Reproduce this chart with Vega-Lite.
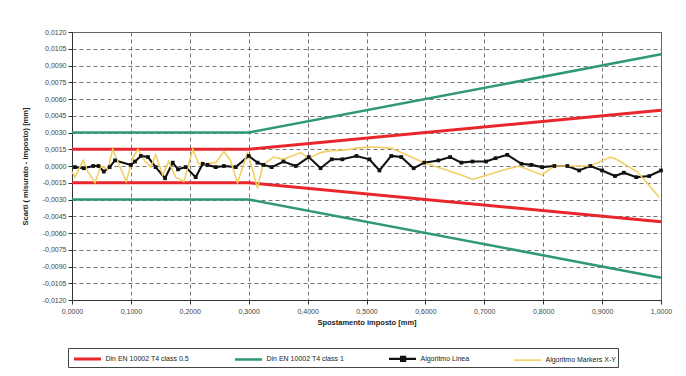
{
  "$schema": "https://vega.github.io/schema/vega-lite/v6.json",
  "autosize": "none",
  "width": 589,
  "height": 268,
  "padding": {"left": 72, "top": 32, "right": 25, "bottom": 76},
  "background": "white",
  "config": {
    "font": "Liberation Sans",
    "view": {"stroke": "#666", "strokeWidth": 1},
    "axis": {
      "labelFont": "Liberation Sans", "labelFontSize": 7, "labelColor": "#444",
      "titleFont": "Liberation Sans", "titleFontSize": 7.5, "titleFontWeight": "bold", "titleColor": "#222",
      "domainColor": "#333", "tickColor": "#333", "tickSize": 4,
      "gridColor": "#666", "gridDash": [4, 3], "gridWidth": 0.9
    },
    "legend": {
      "labelFont": "Liberation Sans", "labelFontSize": 7, "labelColor": "#222"
    }
  },
  "data": {"values": [
    {"s": "Din EN 10002 T4 class 0.5", "p": "u", "x": 0, "y": 0.0015},
    {"s": "Din EN 10002 T4 class 0.5", "p": "u", "x": 0.3, "y": 0.0015},
    {"s": "Din EN 10002 T4 class 0.5", "p": "u", "x": 1, "y": 0.005},
    {"s": "Din EN 10002 T4 class 0.5", "p": "l", "x": 0, "y": -0.0015},
    {"s": "Din EN 10002 T4 class 0.5", "p": "l", "x": 0.3, "y": -0.0015},
    {"s": "Din EN 10002 T4 class 0.5", "p": "l", "x": 1, "y": -0.005},
    {"s": "Din EN 10002 T4 class 1", "p": "u", "x": 0, "y": 0.003},
    {"s": "Din EN 10002 T4 class 1", "p": "u", "x": 0.3, "y": 0.003},
    {"s": "Din EN 10002 T4 class 1", "p": "u", "x": 1, "y": 0.01},
    {"s": "Din EN 10002 T4 class 1", "p": "l", "x": 0, "y": -0.003},
    {"s": "Din EN 10002 T4 class 1", "p": "l", "x": 0.3, "y": -0.003},
    {"s": "Din EN 10002 T4 class 1", "p": "l", "x": 1, "y": -0.01},

    {"s": "Algoritmo Linea", "p": "a", "x": 0.005, "y": -0.0001},
    {"s": "Algoritmo Linea", "p": "a", "x": 0.020, "y": -0.0002},
    {"s": "Algoritmo Linea", "p": "a", "x": 0.036, "y": 0.0},
    {"s": "Algoritmo Linea", "p": "a", "x": 0.045, "y": 0.0},
    {"s": "Algoritmo Linea", "p": "a", "x": 0.054, "y": -0.0005},
    {"s": "Algoritmo Linea", "p": "a", "x": 0.064, "y": -0.0001},
    {"s": "Algoritmo Linea", "p": "a", "x": 0.073, "y": 0.0005},
    {"s": "Algoritmo Linea", "p": "a", "x": 0.100, "y": 0.0001},
    {"s": "Algoritmo Linea", "p": "a", "x": 0.107, "y": 0.0004},
    {"s": "Algoritmo Linea", "p": "a", "x": 0.117, "y": 0.0009},
    {"s": "Algoritmo Linea", "p": "a", "x": 0.129, "y": 0.0008},
    {"s": "Algoritmo Linea", "p": "a", "x": 0.142, "y": -0.0001},
    {"s": "Algoritmo Linea", "p": "a", "x": 0.158, "y": -0.0011},
    {"s": "Algoritmo Linea", "p": "a", "x": 0.171, "y": 0.0003},
    {"s": "Algoritmo Linea", "p": "a", "x": 0.180, "y": -0.0003},
    {"s": "Algoritmo Linea", "p": "a", "x": 0.193, "y": -0.0001},
    {"s": "Algoritmo Linea", "p": "a", "x": 0.210, "y": -0.0010},
    {"s": "Algoritmo Linea", "p": "a", "x": 0.222, "y": 0.0002},
    {"s": "Algoritmo Linea", "p": "a", "x": 0.230, "y": 0.0001},
    {"s": "Algoritmo Linea", "p": "a", "x": 0.244, "y": -0.0001},
    {"s": "Algoritmo Linea", "p": "a", "x": 0.258, "y": 0.0},
    {"s": "Algoritmo Linea", "p": "a", "x": 0.278, "y": -0.0001},
    {"s": "Algoritmo Linea", "p": "a", "x": 0.300, "y": 0.0009},
    {"s": "Algoritmo Linea", "p": "a", "x": 0.315, "y": 0.0003},
    {"s": "Algoritmo Linea", "p": "a", "x": 0.325, "y": 0.0001},
    {"s": "Algoritmo Linea", "p": "a", "x": 0.339, "y": -0.0001},
    {"s": "Algoritmo Linea", "p": "a", "x": 0.359, "y": 0.0004},
    {"s": "Algoritmo Linea", "p": "a", "x": 0.380, "y": 0.0},
    {"s": "Algoritmo Linea", "p": "a", "x": 0.402, "y": 0.0008},
    {"s": "Algoritmo Linea", "p": "a", "x": 0.422, "y": -0.0002},
    {"s": "Algoritmo Linea", "p": "a", "x": 0.441, "y": 0.0006},
    {"s": "Algoritmo Linea", "p": "a", "x": 0.459, "y": 0.0006},
    {"s": "Algoritmo Linea", "p": "a", "x": 0.483, "y": 0.0009},
    {"s": "Algoritmo Linea", "p": "a", "x": 0.505, "y": 0.0006},
    {"s": "Algoritmo Linea", "p": "a", "x": 0.522, "y": -0.0004},
    {"s": "Algoritmo Linea", "p": "a", "x": 0.542, "y": 0.0009},
    {"s": "Algoritmo Linea", "p": "a", "x": 0.559, "y": 0.0008},
    {"s": "Algoritmo Linea", "p": "a", "x": 0.580, "y": -0.0002},
    {"s": "Algoritmo Linea", "p": "a", "x": 0.598, "y": 0.0003},
    {"s": "Algoritmo Linea", "p": "a", "x": 0.622, "y": 0.0005},
    {"s": "Algoritmo Linea", "p": "a", "x": 0.642, "y": 0.0008},
    {"s": "Algoritmo Linea", "p": "a", "x": 0.661, "y": 0.0003},
    {"s": "Algoritmo Linea", "p": "a", "x": 0.680, "y": 0.0004},
    {"s": "Algoritmo Linea", "p": "a", "x": 0.703, "y": 0.0004},
    {"s": "Algoritmo Linea", "p": "a", "x": 0.719, "y": 0.0007},
    {"s": "Algoritmo Linea", "p": "a", "x": 0.739, "y": 0.0010},
    {"s": "Algoritmo Linea", "p": "a", "x": 0.763, "y": 0.0002},
    {"s": "Algoritmo Linea", "p": "a", "x": 0.780, "y": 0.0001},
    {"s": "Algoritmo Linea", "p": "a", "x": 0.798, "y": -0.0001},
    {"s": "Algoritmo Linea", "p": "a", "x": 0.819, "y": 0.0},
    {"s": "Algoritmo Linea", "p": "a", "x": 0.841, "y": 0.0},
    {"s": "Algoritmo Linea", "p": "a", "x": 0.861, "y": -0.0004},
    {"s": "Algoritmo Linea", "p": "a", "x": 0.880, "y": 0.0},
    {"s": "Algoritmo Linea", "p": "a", "x": 0.900, "y": -0.0004},
    {"s": "Algoritmo Linea", "p": "a", "x": 0.922, "y": -0.0009},
    {"s": "Algoritmo Linea", "p": "a", "x": 0.937, "y": -0.0006},
    {"s": "Algoritmo Linea", "p": "a", "x": 0.958, "y": -0.0010},
    {"s": "Algoritmo Linea", "p": "a", "x": 0.980, "y": -0.0009},
    {"s": "Algoritmo Linea", "p": "a", "x": 1.000, "y": -0.0004},

    {"s": "Algoritmo Markers X-Y", "p": "b", "x": 0.0, "y": -0.0005},
    {"s": "Algoritmo Markers X-Y", "p": "b", "x": 0.005, "y": -0.0010},
    {"s": "Algoritmo Markers X-Y", "p": "b", "x": 0.019, "y": 0.0005},
    {"s": "Algoritmo Markers X-Y", "p": "b", "x": 0.027, "y": -0.0005},
    {"s": "Algoritmo Markers X-Y", "p": "b", "x": 0.039, "y": -0.0015},
    {"s": "Algoritmo Markers X-Y", "p": "b", "x": 0.049, "y": 0.0},
    {"s": "Algoritmo Markers X-Y", "p": "b", "x": 0.061, "y": -0.0003},
    {"s": "Algoritmo Markers X-Y", "p": "b", "x": 0.069, "y": 0.0015},
    {"s": "Algoritmo Markers X-Y", "p": "b", "x": 0.081, "y": 0.0},
    {"s": "Algoritmo Markers X-Y", "p": "b", "x": 0.092, "y": -0.0014},
    {"s": "Algoritmo Markers X-Y", "p": "b", "x": 0.103, "y": 0.0007},
    {"s": "Algoritmo Markers X-Y", "p": "b", "x": 0.112, "y": 0.0015},
    {"s": "Algoritmo Markers X-Y", "p": "b", "x": 0.124, "y": 0.0004},
    {"s": "Algoritmo Markers X-Y", "p": "b", "x": 0.134, "y": -0.0001},
    {"s": "Algoritmo Markers X-Y", "p": "b", "x": 0.142, "y": 0.0010},
    {"s": "Algoritmo Markers X-Y", "p": "b", "x": 0.154, "y": -0.0008},
    {"s": "Algoritmo Markers X-Y", "p": "b", "x": 0.164, "y": 0.0004},
    {"s": "Algoritmo Markers X-Y", "p": "b", "x": 0.176, "y": -0.0010},
    {"s": "Algoritmo Markers X-Y", "p": "b", "x": 0.190, "y": -0.0014},
    {"s": "Algoritmo Markers X-Y", "p": "b", "x": 0.205, "y": 0.0015},
    {"s": "Algoritmo Markers X-Y", "p": "b", "x": 0.215, "y": 0.0002},
    {"s": "Algoritmo Markers X-Y", "p": "b", "x": 0.227, "y": 0.0002},
    {"s": "Algoritmo Markers X-Y", "p": "b", "x": 0.244, "y": 0.0003},
    {"s": "Algoritmo Markers X-Y", "p": "b", "x": 0.258, "y": 0.0013},
    {"s": "Algoritmo Markers X-Y", "p": "b", "x": 0.269, "y": 0.0005},
    {"s": "Algoritmo Markers X-Y", "p": "b", "x": 0.281, "y": -0.0015},
    {"s": "Algoritmo Markers X-Y", "p": "b", "x": 0.298, "y": 0.0012},
    {"s": "Algoritmo Markers X-Y", "p": "b", "x": 0.308, "y": -0.0006},
    {"s": "Algoritmo Markers X-Y", "p": "b", "x": 0.315, "y": -0.0020},
    {"s": "Algoritmo Markers X-Y", "p": "b", "x": 0.324, "y": 0.0001},
    {"s": "Algoritmo Markers X-Y", "p": "b", "x": 0.342, "y": 0.0008},
    {"s": "Algoritmo Markers X-Y", "p": "b", "x": 0.359, "y": 0.0006},
    {"s": "Algoritmo Markers X-Y", "p": "b", "x": 0.388, "y": 0.0012},
    {"s": "Algoritmo Markers X-Y", "p": "b", "x": 0.402, "y": 0.0007},
    {"s": "Algoritmo Markers X-Y", "p": "b", "x": 0.422, "y": 0.0012},
    {"s": "Algoritmo Markers X-Y", "p": "b", "x": 0.441, "y": 0.0014},
    {"s": "Algoritmo Markers X-Y", "p": "b", "x": 0.459, "y": 0.0014},
    {"s": "Algoritmo Markers X-Y", "p": "b", "x": 0.483, "y": 0.0016},
    {"s": "Algoritmo Markers X-Y", "p": "b", "x": 0.505, "y": 0.0017},
    {"s": "Algoritmo Markers X-Y", "p": "b", "x": 0.542, "y": 0.0016},
    {"s": "Algoritmo Markers X-Y", "p": "b", "x": 0.598, "y": 0.0003},
    {"s": "Algoritmo Markers X-Y", "p": "b", "x": 0.661, "y": -0.0008},
    {"s": "Algoritmo Markers X-Y", "p": "b", "x": 0.680, "y": -0.0012},
    {"s": "Algoritmo Markers X-Y", "p": "b", "x": 0.737, "y": -0.0003},
    {"s": "Algoritmo Markers X-Y", "p": "b", "x": 0.759, "y": 0.0},
    {"s": "Algoritmo Markers X-Y", "p": "b", "x": 0.798, "y": -0.0008},
    {"s": "Algoritmo Markers X-Y", "p": "b", "x": 0.819, "y": 0.0},
    {"s": "Algoritmo Markers X-Y", "p": "b", "x": 0.880, "y": 0.0},
    {"s": "Algoritmo Markers X-Y", "p": "b", "x": 0.914, "y": 0.0008},
    {"s": "Algoritmo Markers X-Y", "p": "b", "x": 0.924, "y": 0.0006},
    {"s": "Algoritmo Markers X-Y", "p": "b", "x": 0.959, "y": -0.0005},
    {"s": "Algoritmo Markers X-Y", "p": "b", "x": 0.976, "y": -0.0015},
    {"s": "Algoritmo Markers X-Y", "p": "b", "x": 0.997, "y": -0.0028}
  ]},
  "encoding": {
    "x": {
      "field": "x", "type": "quantitative",
      "scale": {"domain": [0, 1], "nice": false, "zero": false},
      "axis": {
        "title": "Spostamento imposto  [mm]",
        "values": [0, 0.1, 0.2, 0.3, 0.4, 0.5, 0.6, 0.7, 0.8, 0.9, 1],
        "labelExpr": "replace(format(datum.value, '.4f'), '.', ',')",
        "labelPadding": 3, "titlePadding": 4, "labelFlush": false
      }
    },
    "y": {
      "field": "y", "type": "quantitative",
      "scale": {"domain": [-0.012, 0.012], "nice": false},
      "axis": {
        "title": "Scarti ( misurato - imposto) [mm]",
        "values": [-0.012, -0.0105, -0.009, -0.0075, -0.006, -0.0045, -0.003, -0.0015, 0, 0.0015, 0.003, 0.0045, 0.006, 0.0075, 0.009, 0.0105, 0.012],
        "labelExpr": "(datum.value < -0.00000001 ? '-' : '') + replace(format(abs(datum.value), '.4f'), '.', ',')",
        "labelPadding": 2, "titlePadding": 13
      }
    }
  },
  "layer": [
    {
      "mark": {"type": "line", "interpolate": "linear"},
      "encoding": {
        "color": {
          "field": "s", "type": "nominal",
          "scale": {
            "domain": ["Din EN 10002 T4 class 0.5", "Din EN 10002 T4 class 1", "Algoritmo Linea", "Algoritmo Markers X-Y"],
            "range": ["#e8262c", "#2f9a72", "#111111", "#f2cf63"]
          },
          "legend": {
            "title": null,
            "orient": "none",
            "legendX": -4,
            "legendY": 316,
            "direction": "horizontal",
            "columns": 4,
            "columnPadding": 40,
            "symbolType": "stroke",
            "symbolSize": 225,
            "symbolStrokeWidth": 2,
            "labelOffset": 18,
            "padding": 1.5,
            "strokeColor": "#444",
            "fillColor": "white",
            "encode": {
              "symbols": {
                "update": {
                  "shape": {"signal": "datum.value === 'Algoritmo Linea' ? 'M-0.6,0L3,0M1,-0.28L1.56,-0.28L1.56,0.28L1,0.28Z' : 'M-0.6,0L3,0'"},
                  "fill": {"signal": "datum.value === 'Algoritmo Linea' ? '#111' : 'transparent'"},
                  "strokeWidth": {"signal": "datum.value === 'Din EN 10002 T4 class 0.5' ? 3 : datum.value === 'Din EN 10002 T4 class 1' ? 2 : 1.2"}
                }
              }
            }
          }
        },
        "detail": {"field": "p", "type": "nominal"},
        "strokeWidth": {
          "field": "s", "type": "nominal",
          "scale": {
            "domain": ["Din EN 10002 T4 class 0.5", "Din EN 10002 T4 class 1", "Algoritmo Linea", "Algoritmo Markers X-Y"],
            "range": [3, 1.6, 1.2, 1]
          },
          "legend": null
        }
      }
    },
    {
      "transform": [{"filter": "datum.s === 'Algoritmo Linea'"}],
      "mark": {"type": "point", "shape": "square", "filled": true, "size": 14, "color": "#111", "opacity": 1}
    }
  ]
}
